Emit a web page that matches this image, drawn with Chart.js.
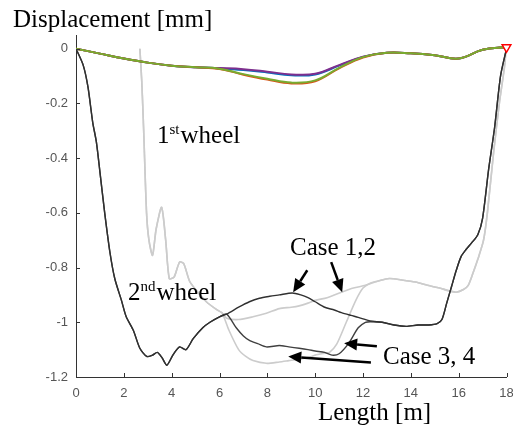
<!DOCTYPE html>
<html lang="en">
<head>
<meta charset="UTF-8">
<title>Displacement vs length</title>
<style>
  * { margin: 0; padding: 0; box-sizing: border-box; }
  body { background: #fff; width: 513px; height: 428px; overflow: hidden; }
  #wrap { position: relative; width: 513px; height: 428px; }
</style>
</head>
<body>
<div id="wrap"><canvas id="chart"></canvas></div>
<script src="https://cdn.jsdelivr.net/npm/chart.js@4"></script>
<script>
// tick labels
const xTicks = [0, 2, 4, 6, 8, 10, 12, 14, 16, 18];
const yTicks = [0, -0.2, -0.4, -0.6, -0.8, -1, -1.2];

// rail displacement lines near zero (four load cases)
const topX = [0, 1, 2, 3, 4, 5, 6, 7, 8, 9, 10, 11, 12, 13, 14, 15, 16, 17, 18];
const purpleY = [0, -0.018, -0.036, -0.051, -0.062, -0.068, -0.071, -0.075, -0.084, -0.094, -0.092, -0.06, -0.029, -0.015, -0.017, -0.024, -0.036, -0.004, 0.006];
const blueY = [0, -0.018, -0.036, -0.051, -0.062, -0.068, -0.072, -0.078, -0.087, -0.097, -0.094, -0.062, -0.03, -0.015, -0.017, -0.024, -0.036, -0.004, 0.006];
const greenY = [0, -0.018, -0.036, -0.051, -0.062, -0.068, -0.073, -0.093, -0.11, -0.124, -0.116, -0.07, -0.031, -0.015, -0.017, -0.024, -0.036, -0.004, 0.006];
const orangeY = [0, -0.018, -0.036, -0.051, -0.062, -0.068, -0.074, -0.095, -0.113, -0.127, -0.119, -0.072, -0.032, -0.015, -0.017, -0.024, -0.036, -0.004, 0.006];

// 2nd wheel (dark): common start, case 1,2 / case 3,4 middle parts, common end
const darkStartX = [0, 0.3, 0.5, 0.7, 0.85, 1.0, 1.2, 1.42, 1.62, 1.9, 2.1, 2.4, 2.67, 2.96, 3.2, 3.4, 3.6, 3.8, 4.05, 4.33, 4.6, 4.9, 5.3, 5.6, 6.0, 6.3];
const darkStartY = [0, -0.06, -0.14, -0.27, -0.34, -0.45, -0.6, -0.745, -0.84, -0.92, -0.98, -1.03, -1.095, -1.125, -1.12, -1.11, -1.13, -1.157, -1.12, -1.09, -1.1, -1.06, -1.02, -1.0, -0.98, -0.97];
const dark12X = [6.8, 7.25, 7.67, 8.1, 8.5, 9.04, 9.4, 9.7, 10.0, 10.4, 10.8, 11.1, 11.5, 11.8, 12.3];
const dark12Y = [-0.945, -0.925, -0.912, -0.905, -0.9, -0.893, -0.9, -0.91, -0.925, -0.945, -0.955, -0.965, -0.975, -0.982, -0.995];
const dark34X = [6.7, 7.0, 7.25, 7.6, 7.96, 8.5, 8.9, 9.33, 9.7, 10.0, 10.4, 10.7, 11.0, 11.4, 11.8, 12.1, 12.3];
const dark34Y = [-1.02, -1.05, -1.066, -1.078, -1.09, -1.085, -1.09, -1.095, -1.1, -1.105, -1.11, -1.12, -1.115, -1.077, -1.02, -1.0, -0.998];
const darkEndX = [12.8, 13.3, 13.8, 14.3, 14.75, 15.1, 15.3, 15.5, 15.7, 15.9, 16.1, 16.3, 16.54, 16.8, 17.0, 17.25, 17.5, 17.75, 18];
const darkEndY = [-1.0, -1.01, -1.015, -1.01, -1.01, -1.005, -0.99, -0.93, -0.87, -0.81, -0.76, -0.735, -0.71, -0.68, -0.62, -0.443, -0.29, -0.1, 0];

// 1st wheel (light grey)
const grayStartX = [2.67, 2.75, 2.83, 2.95, 3.05, 3.2, 3.35, 3.58, 3.75, 3.9, 4.1, 4.33, 4.5, 4.75, 5.0, 5.45, 5.9, 6.1];
const grayStartY = [0, -0.12, -0.3, -0.6, -0.7, -0.755, -0.66, -0.58, -0.7, -0.84, -0.835, -0.78, -0.785, -0.85, -0.88, -0.925, -0.955, -0.965];
const gray12X = [6.3, 6.8, 7.4, 7.96, 8.5, 9.0, 9.33, 9.7, 10.0, 10.5, 11.1, 11.6, 12.1];
const gray12Y = [-0.985, -0.99, -0.98, -0.967, -0.95, -0.945, -0.94, -0.93, -0.92, -0.91, -0.89, -0.875, -0.865];
const gray34X = [6.4, 6.8, 7.1, 7.4, 7.96, 8.5, 8.9, 9.3, 9.75, 10.0, 10.4, 10.6, 10.9, 11.3, 11.7, 12.0, 12.3];
const gray34Y = [-1.03, -1.1, -1.125, -1.14, -1.15, -1.145, -1.14, -1.135, -1.128, -1.12, -1.113, -1.11, -1.08, -1.0, -0.92, -0.875, -0.857];
const grayEndX = [12.6, 13.1, 13.6, 14.2, 14.7, 15.2, 15.6, 15.9, 16.2, 16.4, 16.6, 16.8, 17.04, 17.2, 17.46, 17.7, 17.9, 18];
const grayEndY = [-0.85, -0.84, -0.845, -0.853, -0.865, -0.875, -0.885, -0.89, -0.88, -0.865, -0.82, -0.77, -0.7, -0.6, -0.38, -0.2, -0.077, 0];

// end marker
const markerX = [18];
const markerY = [0.005];

function pts(xs, ys) {
  return xs.map((x, i) => ({ x: x, y: ys[i] }));
}

const dark12 = pts(darkStartX.concat(dark12X, darkEndX), darkStartY.concat(dark12Y, darkEndY));
const dark34 = pts(darkStartX.concat(dark34X, darkEndX), darkStartY.concat(dark34Y, darkEndY));
const gray12 = pts(grayStartX.concat(gray12X, grayEndX), grayStartY.concat(gray12Y, grayEndY));
const gray34 = pts(grayStartX.concat(gray34X, grayEndX), grayStartY.concat(gray34Y, grayEndY));

function smooth(label, data, color) {
  return { label: label, data: data, borderColor: color, borderWidth: 2, pointRadius: 0, tension: 0.4 };
}
function rough(label, data, color, width) {
  return { label: label, data: data, borderColor: color, borderWidth: width, pointRadius: 0, tension: 0.25 };
}

// first dataset is drawn on top
const datasets = [
  { label: 'end', data: pts(markerX, markerY), showLine: false, pointStyle: 'triangle', rotation: 180,
    pointRadius: 5, pointBorderColor: '#ff0000', pointBackgroundColor: '#ffffff', pointBorderWidth: 1.5, clip: false },
  smooth('green', pts(topX, greenY), '#77AC30'),
  smooth('orange', pts(topX, orangeY), '#D95319'),
  smooth('purple', pts(topX, purpleY), '#7E2F8E'),
  smooth('blue', pts(topX, blueY), '#0072BD'),
  rough('2nd wheel case 1,2', dark12, '#303030', 1.4),
  rough('2nd wheel case 3,4', dark34, '#404040', 1.4),
  rough('1st wheel case 1,2', gray12, '#cccccc', 1.6),
  rough('1st wheel case 3,4', gray34, '#cccccc', 1.6)
];

// labels and arrows, placed in data units
const arrows = [
  [9.67, -0.81, 9.08, -0.89],
  [10.67, -0.78, 11.13, -0.89],
  [12.58, -1.088, 11.21, -1.077],
  [12.33, -1.147, 8.875, -1.125]
];

const annotate = {
  id: 'annotate',
  afterDatasetsDraw(chart) {
    const ctx = chart.ctx;
    const xs = chart.scales.x, ys = chart.scales.y;
    const area = chart.chartArea;
    ctx.save();

    // inward tick marks
    ctx.strokeStyle = '#333';
    ctx.lineWidth = 1;
    ctx.beginPath();
    xTicks.forEach(v => {
      const px = Math.round(xs.getPixelForValue(v)) + 0.5;
      ctx.moveTo(px, area.bottom);
      ctx.lineTo(px, area.bottom - 4);
    });
    yTicks.forEach(v => {
      const py = Math.round(ys.getPixelForValue(v)) + 0.5;
      ctx.moveTo(area.left, py);
      ctx.lineTo(area.left + 4, py);
    });
    ctx.stroke();

    // arrows
    ctx.strokeStyle = '#000';
    ctx.fillStyle = '#000';
    ctx.lineWidth = 2.5;
    arrows.forEach(a => {
      const x1 = xs.getPixelForValue(a[0]), y1 = ys.getPixelForValue(a[1]);
      const x2 = xs.getPixelForValue(a[2]), y2 = ys.getPixelForValue(a[3]);
      const ang = Math.atan2(y2 - y1, x2 - x1);
      const hl = 13, hw = 6;
      const bx = x2 - hl * Math.cos(ang), by = y2 - hl * Math.sin(ang);
      ctx.beginPath();
      ctx.moveTo(x1, y1);
      ctx.lineTo(bx, by);
      ctx.stroke();
      ctx.beginPath();
      ctx.moveTo(x2, y2);
      ctx.lineTo(bx + hw * Math.sin(ang), by - hw * Math.cos(ang));
      ctx.lineTo(bx - hw * Math.sin(ang), by + hw * Math.cos(ang));
      ctx.closePath();
      ctx.fill();
    });

    // text
    const serif = '"Liberation Serif", "Times New Roman", serif';
    ctx.fillStyle = '#000';
    ctx.textAlign = 'left';
    ctx.textBaseline = 'alphabetic';
    ctx.font = '25px ' + serif;
    ctx.fillText('Displacement [mm]', 13, 27);
    ctx.fillText('Length [m]', 318, 420);
    ctx.fillText('Case 1,2', 290, 255);
    ctx.fillText('Case 3, 4', 383, 364);

    // wheel labels with superscripts
    function wheel(num, sup, x, y) {
      ctx.font = '25px ' + serif;
      ctx.fillText(num, x, y);
      let w = ctx.measureText(num).width;
      ctx.font = '15px ' + serif;
      ctx.fillText(sup, x + w, y - 9);
      w += ctx.measureText(sup).width + 1;
      ctx.font = '25px ' + serif;
      ctx.fillText('wheel', x + w, y);
    }
    wheel('1', 'st', 157, 143);
    wheel('2', 'nd', 128, 300);
    ctx.restore();
  }
};

new Chart(document.getElementById('chart'), {
  type: 'line',
  data: { datasets: datasets },
  options: {
    responsive: true,
    maintainAspectRatio: false,
    animation: false,
    layout: { padding: { top: 35, right: 5, left: 0, bottom: 0 } },
    plugins: { legend: { display: false }, tooltip: { enabled: false } },
    scales: {
      x: {
        type: 'linear',
        min: 0,
        max: 18,
        afterBuildTicks: s => { s.ticks = xTicks.map(v => ({ value: v })); },
        afterFit: s => { s.height = 51; s.paddingLeft = 0; s.paddingRight = 0; },
        grid: { display: false, drawTicks: false },
        border: { display: true, color: '#333', width: 1 },
        ticks: {
          color: '#555',
          padding: 9,
          maxRotation: 0,
          autoSkip: false,
          font: { family: '"Liberation Sans", Arial, sans-serif', size: 13 },
          callback: v => String(v)
        }
      },
      y: {
        type: 'linear',
        min: -1.2,
        max: 0.05,
        afterBuildTicks: s => { s.ticks = yTicks.map(v => ({ value: v })); },
        afterFit: s => { s.width = 76; },
        grid: { display: false, drawTicks: false },
        border: { display: true, color: '#333', width: 1 },
        ticks: {
          color: '#555',
          padding: 8,
          font: { family: '"Liberation Sans", Arial, sans-serif', size: 13 },
          callback: v => String(Math.round(v * 10) / 10)
        }
      }
    }
  },
  plugins: [annotate]
});
</script>
</body>
</html>
